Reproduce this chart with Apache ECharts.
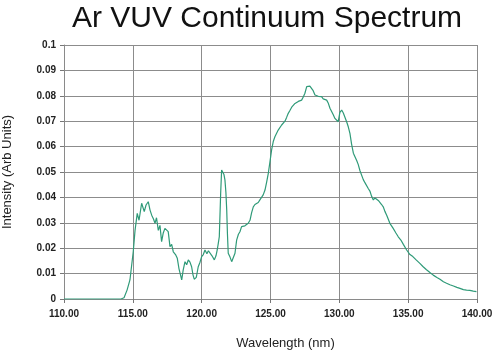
<!DOCTYPE html>
<html>
<head>
<meta charset="utf-8">
<script src="https://cdn.jsdelivr.net/npm/echarts@6/dist/echarts.min.js"></script>
<style>
  html, body { margin: 0; padding: 0; background: #ffffff; }
  #chart { width: 500px; height: 352px; }
</style>
</head>
<body>
<div id="chart"></div>
<script>
// wavelength (nm) and intensity
const wavelength = [
  110.00, 114.14, 114.36, 114.58, 114.79, 115.03, 115.16, 115.32, 115.45, 115.64,
  115.83, 115.96, 116.12, 116.25, 116.37, 116.50, 116.61, 116.72, 116.85, 116.97,
  117.09, 117.21, 117.33, 117.46, 117.57, 117.70, 117.82, 117.94, 118.10, 118.23,
  118.35, 118.55, 118.66, 118.79, 118.91, 119.03, 119.15, 119.27, 119.37, 119.46,
  119.61, 119.75, 119.88, 120.00, 120.12, 120.24, 120.38, 120.49, 120.60, 120.75,
  120.92, 121.04, 121.13, 121.21, 121.28, 121.33, 121.38, 121.45, 121.55, 121.62,
  121.69, 121.76, 121.82, 121.87, 121.93, 122.06, 122.18, 122.30, 122.42, 122.54,
  122.67, 122.78, 122.90, 123.02, 123.14, 123.27, 123.38, 123.51, 123.63, 123.75,
  123.87, 123.99, 124.11, 124.23, 124.36, 124.47, 124.60, 124.72, 124.84, 124.96,
  125.08, 125.20, 125.32, 125.45, 125.56, 125.69, 125.81, 125.93, 126.05, 126.17,
  126.29, 126.41, 126.54, 126.65, 126.78, 126.90, 127.02, 127.14, 127.26, 127.38,
  127.50, 127.63, 127.74, 127.86, 127.99, 128.10, 128.23, 128.35, 128.47, 128.59,
  128.71, 128.83, 128.95, 129.08, 129.19, 129.32, 129.44, 129.56, 129.68, 129.80,
  129.92, 130.04, 130.17, 130.29, 130.41, 130.53, 130.65, 130.77, 130.89, 131.02,
  131.14, 131.26, 131.37, 131.50, 131.62, 131.74, 131.86, 131.98, 132.10, 132.22,
  132.34, 132.47, 132.59, 132.71, 132.83, 132.95, 133.07, 133.19, 133.31, 133.44,
  133.55, 133.67, 133.89, 134.11, 134.28, 134.47, 134.65, 134.89, 135.13, 135.34,
  135.56, 135.85, 136.07, 136.33, 136.58, 136.82, 137.09, 137.31, 137.56, 137.79,
  138.03, 138.29, 138.54, 138.76, 139.01, 139.24, 139.48, 139.73, 139.96
];
const intensity = [
  0, 0, 0.0005, 0.0035, 0.0075, 0.0186, 0.027, 0.0337, 0.031, 0.0377,
  0.0344, 0.037, 0.0383, 0.035, 0.033, 0.0315, 0.0298, 0.032, 0.027, 0.029,
  0.0226, 0.026, 0.0278, 0.0272, 0.0265, 0.0206, 0.0215, 0.0186, 0.0175, 0.016,
  0.012, 0.0075, 0.0115, 0.0147, 0.0135, 0.0154, 0.0145, 0.0127, 0.0095, 0.0078,
  0.0085, 0.0127, 0.0145, 0.0167, 0.0175, 0.0193, 0.0178, 0.019, 0.0186, 0.017,
  0.0154, 0.017, 0.0193, 0.022, 0.0245, 0.033, 0.0416, 0.0508, 0.0505, 0.049,
  0.0469, 0.042, 0.035, 0.026, 0.018, 0.0165, 0.0147, 0.0142, 0.018, 0.0232,
  0.0255, 0.0265, 0.0285, 0.029, 0.0288, 0.0295, 0.0298, 0.031, 0.034, 0.0363,
  0.0372, 0.0368, 0.038, 0.039, 0.0385, 0.041, 0.0429, 0.046, 0.0495, 0.054,
  0.0587, 0.062, 0.0639, 0.064, 0.0665, 0.0668, 0.0685, 0.0685, 0.070, 0.0715,
  0.0731, 0.0742, 0.0755, 0.0752, 0.077, 0.0768, 0.0778, 0.0775, 0.0783, 0.0795,
  0.081, 0.0836, 0.0832, 0.0838, 0.0836, 0.082, 0.0803, 0.0808, 0.0798, 0.080,
  0.0797, 0.0788, 0.079, 0.0783, 0.0772, 0.0751, 0.0738, 0.0725, 0.0711, 0.0708,
  0.0698, 0.0735, 0.0744, 0.0732, 0.0738, 0.0698, 0.0678, 0.0652, 0.061, 0.0574,
  0.0572, 0.0545, 0.053, 0.0505, 0.0498, 0.047, 0.0458, 0.0452, 0.0435, 0.0425,
  0.0405, 0.039, 0.0398, 0.0403, 0.0388, 0.0385, 0.0372, 0.0363, 0.0345, 0.033,
  0.0315, 0.0298, 0.028, 0.026, 0.0245, 0.0232, 0.0215, 0.0193, 0.0175, 0.0167,
  0.0155, 0.014, 0.0128, 0.0115, 0.0104, 0.0094, 0.0085, 0.0078, 0.0068, 0.0062,
  0.0056, 0.0051, 0.0046, 0.0042, 0.0037, 0.0035, 0.0034, 0.0031, 0.0029
];

const chart = echarts.init(document.getElementById('chart'), null, { renderer: 'canvas' });

const lineData = wavelength.map((w, i) => [w, intensity[i]]);

const option = {
  animation: false,
  backgroundColor: '#ffffff',
  title: {
    text: 'Ar VUV Continuum Spectrum',
    left: 262,
    top: -1,
    textAlign: 'center',
    textStyle: {
      fontFamily: 'Liberation Sans, Arial, sans-serif',
      fontSize: 30,
      fontWeight: 'normal',
      color: '#111111'
    }
  },
  grid: {
    left: 64,
    right: 23,
    top: 45,
    bottom: 53,
    containLabel: false,
    outerBoundsMode: 'none'
  },
  xAxis: {
    type: 'value',
    min: 110,
    max: 140,
    interval: 5,
    name: 'Wavelength (nm)',
    nameLocation: 'middle',
    nameGap: 38,
    nameTextStyle: {
      fontFamily: 'Liberation Sans, Arial, sans-serif',
      fontSize: 13,
      color: '#222222',
      padding: [0, 0, 0, 30]
    },
    axisLine: { show: true, lineStyle: { color: '#8a8a8a', width: 1 } },
    axisTick: { show: true, inside: false, length: 4, lineStyle: { color: '#777777' } },
    axisLabel: {
      margin: 10,
      fontFamily: 'Liberation Sans, Arial, sans-serif',
      fontSize: 10,
      fontWeight: 'bold',
      color: '#222222',
      formatter: (v) => v.toFixed(2)
    },
    splitLine: { show: true, lineStyle: { color: '#8c8c8c', width: 1 } }
  },
  yAxis: {
    type: 'value',
    min: 0,
    max: 0.1,
    interval: 0.01,
    name: 'Intensity (Arb Units)',
    nameLocation: 'middle',
    nameGap: 50,
    nameTextStyle: {
      fontFamily: 'Liberation Sans, Arial, sans-serif',
      fontSize: 13,
      color: '#222222'
    },
    axisLine: { show: true, lineStyle: { color: '#8a8a8a', width: 1 } },
    axisTick: { show: true, inside: false, length: 4, lineStyle: { color: '#777777' } },
    axisLabel: {
      margin: 8,
      fontFamily: 'Liberation Sans, Arial, sans-serif',
      fontSize: 10,
      fontWeight: 'bold',
      color: '#222222',
      formatter: (v) => String(parseFloat(v.toFixed(2)))
    },
    splitLine: { show: true, lineStyle: { color: '#8c8c8c', width: 1 } }
  },
  series: [{
    name: 'Intensity',
    type: 'line',
    data: lineData,
    showSymbol: false,
    smooth: false,
    lineStyle: { color: '#2f9a78', width: 1.2 },
    itemStyle: { color: '#2f9a78' }
  }]
};

chart.setOption(option);
</script>
</body>
</html>
